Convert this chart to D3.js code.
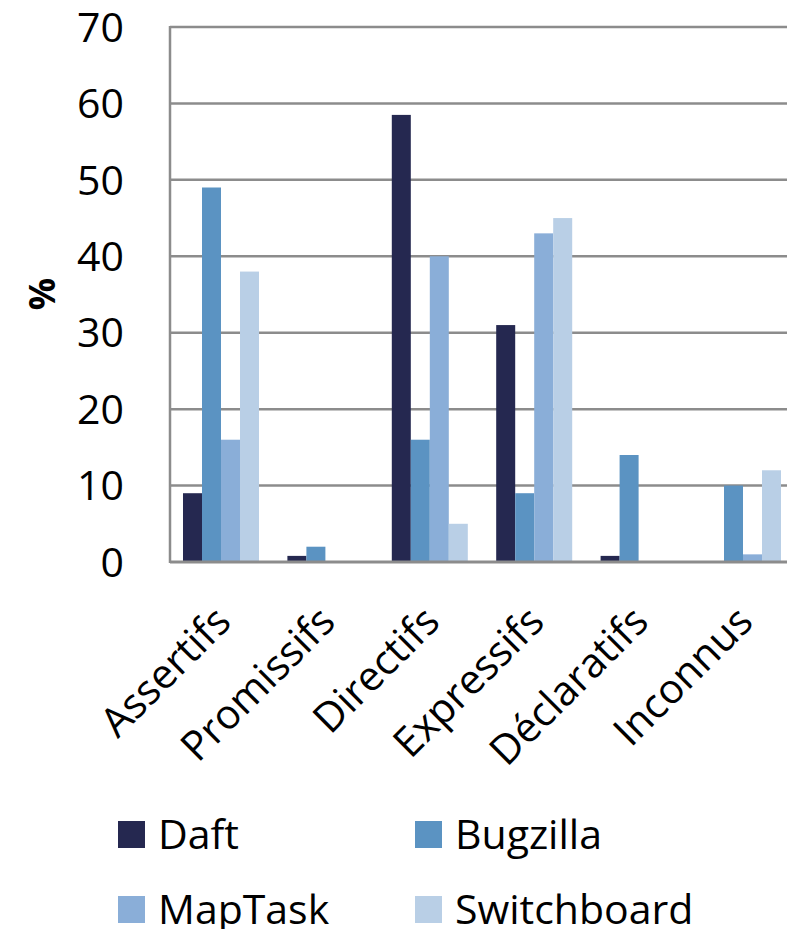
<!DOCTYPE html>
<html>
<head>
<meta charset="utf-8">
<script src="https://cdn.jsdelivr.net/npm/d3@7"></script>
<style>
  body { margin: 0; background: #fff; overflow: hidden; }
  text { font-family: "Open Sans", "Noto Sans", sans-serif; fill: #000; }
</style>
</head>
<body>
<div id="chart"></div>
<script>
const categories = ["Assertifs", "Promissifs", "Directifs", "Expressifs", "Déclaratifs", "Inconnus"];
const seriesNames = ["Daft", "Bugzilla", "MapTask", "Switchboard"];
const daft = [9, 0.8, 58.5, 31, 0.8, 0];
const bugzilla = [49, 2, 16, 9, 14, 10];
const mapTask = [16, 0, 40, 43, 0, 1];
const switchboard = [38, 0, 5, 45, 0, 12];
const yTicks = [0, 10, 20, 30, 40, 50, 60, 70];
const colors = ["#252850", "#5b93c2", "#8aaed8", "#b9cfe6"];

const width = 787, height = 929;
// the plot runs a little past the right edge of the picture, as in the original
const margin = { top: 27, left: 170, plotRight: 794, bottom: 367 };

const svg = d3.select("#chart").append("svg")
  .attr("width", width)
  .attr("height", height);

const values = [daft, bugzilla, mapTask, switchboard];
const rows = categories.map((c, i) => ({ cat: c, vals: values.map(v => v[i]) }));

const x0 = d3.scaleBand()
  .domain(categories)
  .range([margin.left, margin.plotRight])
  .paddingInner(0.272)
  .paddingOuter(0.1245);

const x1 = d3.scaleBand()
  .domain(seriesNames)
  .range([0, x0.bandwidth()]);

const y = d3.scaleLinear()
  .domain([0, 70])
  .range([height - margin.bottom, margin.top]);

// gridlines
svg.append("g")
  .selectAll("line")
  .data(yTicks.filter(d => d > 0))
  .join("line")
  .attr("x1", margin.left)
  .attr("x2", margin.plotRight)
  .attr("y1", d => y(d))
  .attr("y2", d => y(d))
  .attr("stroke", "#8c8c8c")
  .attr("stroke-width", 2.5);

// bars
svg.append("g")
  .selectAll("g")
  .data(rows)
  .join("g")
  .attr("transform", d => `translate(${x0(d.cat)},0)`)
  .selectAll("rect")
  .data(d => d.vals.map((v, j) => ({ key: seriesNames[j], v: v, j: j })))
  .join("rect")
  .attr("x", d => x1(d.key))
  .attr("width", x1.bandwidth())
  .attr("y", d => y(d.v))
  .attr("height", d => y(0) - y(d.v))
  .attr("fill", d => colors[d.j]);

// axis lines
svg.append("line")
  .attr("x1", margin.left).attr("x2", margin.left)
  .attr("y1", y(70) - 1).attr("y2", y(0) + 1)
  .attr("stroke", "#8c8c8c").attr("stroke-width", 2.5);
svg.append("line")
  .attr("x1", margin.left).attr("x2", margin.plotRight)
  .attr("y1", y(0)).attr("y2", y(0))
  .attr("stroke", "#8c8c8c").attr("stroke-width", 3);

// y tick labels
svg.append("g")
  .selectAll("text")
  .data(yTicks)
  .join("text")
  .attr("x", 124)
  .attr("y", d => y(d))
  .attr("dy", "0.36em")
  .attr("text-anchor", "end")
  .attr("font-size", 41)
  .text(d => d);

// y title
svg.append("text")
  .attr("transform", `translate(55,294) rotate(-90)`)
  .attr("text-anchor", "middle")
  .attr("font-size", 36)
  .attr("font-weight", "bold")
  .text("%");

// x labels, rotated
svg.append("g")
  .selectAll("text")
  .data(categories)
  .join("text")
  .attr("transform", d => `translate(${x0(d) + x0.bandwidth() / 2 + 12},${y(0) + 62}) rotate(-45)`)
  .attr("text-anchor", "end")
  .attr("font-size", 41)
  .text(d => d);

// legend
const legendPos = [[118, 821], [415, 821], [118, 896], [415, 896]];
const legend = svg.append("g")
  .selectAll("g")
  .data(seriesNames)
  .join("g")
  .attr("transform", (d, i) => `translate(${legendPos[i][0]},${legendPos[i][1]})`);
legend.append("rect")
  .attr("width", 27).attr("height", 27)
  .attr("fill", (d, i) => colors[i]);
legend.append("text")
  .attr("x", 40).attr("y", 13.5)
  .attr("dy", "0.36em")
  .attr("font-size", 41)
  .text(d => d);
</script>
</body>
</html>
